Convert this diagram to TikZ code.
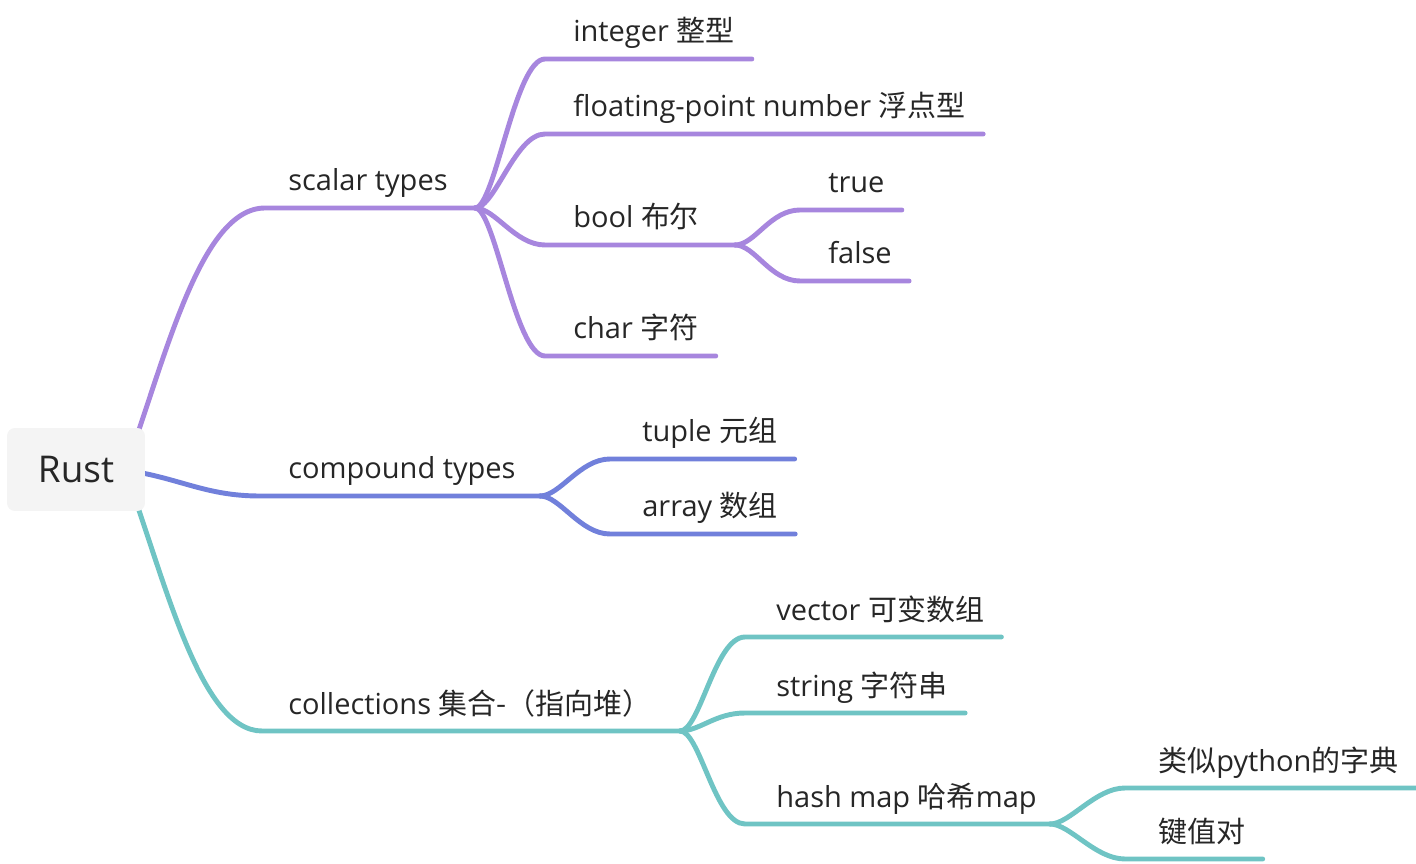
\documentclass[tikz,border=0pt]{standalone}
\usepackage{fontspec}
\setmainfont{Open Sans}
\newfontfamily\cjk{Noto Sans CJK SC}
\usetikzlibrary{calc}
\definecolor{scalarc}{RGB}{167,134,222}
\definecolor{compc}{RGB}{113,128,219}
\definecolor{collc}{RGB}{111,196,196}
\definecolor{txtc}{RGB}{38,38,38}
\definecolor{rootfill}{RGB}{244,244,244}
\tikzset{
  root/.style={fill=rootfill,rounded corners=4.5pt,minimum width=2.76cm,minimum height=1.66cm,
    text=txtc,font=\fontsize{21}{24}\selectfont},
  topic/.style={anchor=base west,inner sep=0pt,text=txtc,font=\fontsize{16.5}{19}\selectfont},
  branch/.style={line width=2.8pt,line cap=round,line join=round}
}
\begin{document}
\begin{tikzpicture}[x=0.02cm,y=-0.02cm]
\useasboundingbox (0,0) rectangle (1416,864);
% topics
\node[topic] (sc) at (288,191) {scalar types};
\node[topic] (co) at (288,479) {compound types};
\node[topic] (cl) at (288,714) {collections {\cjk 集合-（指向堆）}};
\node[topic] (int) at (573,42) {integer {\cjk 整型}};
\node[topic] (flt) at (573,117) {floating-point number {\cjk 浮点型}};
\node[topic] (bool) at (573,228) {bool {\cjk 布尔}};
\node[topic] (chr) at (573,339) {char {\cjk 字符}};
\node[topic] (tru) at (828,193) {true};
\node[topic] (fls) at (828,264) {false};
\node[topic] (tup) at (642,442) {tuple {\cjk 元组}};
\node[topic] (arr) at (642,517) {array {\cjk 数组}};
\node[topic] (vec) at (776,620) {vector {\cjk 可变数组}};
\node[topic] (str) at (776,696) {string {\cjk 字符串}};
\node[topic] (hm) at (776,807) {hash map {\cjk 哈希}map};
\node[topic] (py) at (1158,771) {{\cjk 类似}python{\cjk 的字典}};
\node[topic] (kv) at (1158,842) {{\cjk 键值对}};
% forks
\coordinate (hub) at (125,470);
\coordinate (scF) at (475,208);
\coordinate (coF) at (540,496);
\coordinate (clF) at (680,731);
\coordinate (boolF) at (735,245);
\coordinate (hmF) at (1050,824);
% first level
\draw[branch,scalarc] (hub) .. controls (165,360) and (200,208) .. ($(sc.base west)+(-23,17)$) -- (scF);
\draw[branch,compc] (hub) .. controls (180,478) and (205,496) .. ($(co.base west)+(-28,17)$) -- (coF);
\draw[branch,collc] (hub) .. controls (165,580) and (200,731) .. ($(cl.base west)+(-26,17)$) -- (clF);
% second level
\foreach \n in {int,flt,chr}
  \draw[branch,scalarc] (scF) .. controls +(20,0) and +(-30,0) .. ($(\n.base west)+(-28,17)$) -- ($(\n.base east)+(17,17)$);
\draw[branch,scalarc] (scF) .. controls +(20,0) and +(-30,0) .. ($(bool.base west)+(-28,17)$) -- (boolF);
\foreach \n in {tru,fls}
  \draw[branch,scalarc] (boolF) .. controls +(20,0) and +(-30,0) .. ($(\n.base west)+(-28,17)$) -- ($(\n.base east)+(17,17)$);
\foreach \n in {tup,arr}
  \draw[branch,compc] (coF) .. controls +(20,0) and +(-30,0) .. ($(\n.base west)+(-32,17)$) -- ($(\n.base east)+(17,17)$);
\foreach \n in {vec,str}
  \draw[branch,collc] (clF) .. controls +(20,0) and +(-30,0) .. ($(\n.base west)+(-31,17)$) -- ($(\n.base east)+(17,17)$);
\draw[branch,collc] (clF) .. controls +(20,0) and +(-30,0) .. ($(hm.base west)+(-31,17)$) -- (hmF);
\foreach \n in {py,kv}
  \draw[branch,collc] (hmF) .. controls +(20,0) and +(-30,0) .. ($(\n.base west)+(-33,17)$) -- ($(\n.base east)+(17,17)$);
% root on top
\node[root] (rust) at (76,469.5) {Rust};
\end{tikzpicture}
\end{document}
